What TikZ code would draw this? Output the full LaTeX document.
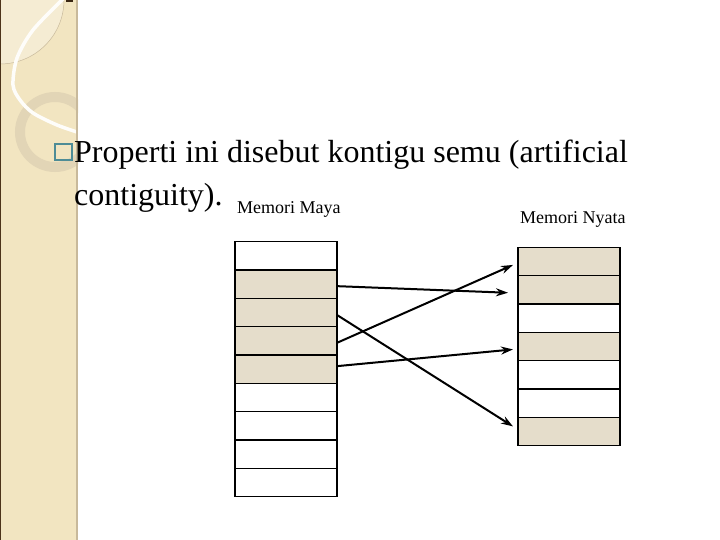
\documentclass[tikz,border=0pt]{standalone}
\usepackage{fontspec}
\setmainfont{Liberation Serif}
\usetikzlibrary{arrows.meta}
\definecolor{strip}{RGB}{242,229,193}
\definecolor{stripedge}{RGB}{200,185,155}
\definecolor{ringcol}{RGB}{226,213,182}
\definecolor{cellfill}{RGB}{229,221,203}
\definecolor{bulletcol}{RGB}{78,140,150}
\tikzset{
  cell/.style={draw,line width=1.2pt,minimum width=102pt,minimum height=28.33pt,inner sep=0pt,outer sep=0pt},
  link/.style={-{Stealth[length=12pt,width=8pt]},line width=2pt},
  bigtext/.style={anchor=base west,inner sep=0pt,font=\fontsize{32}{38}\selectfont},
  smalltext/.style={anchor=base west,inner sep=0pt,font=\fontsize{18}{22}\selectfont}
}
\begin{document}
\begin{tikzpicture}[x=1pt,y=-1pt]
\useasboundingbox (0,0) rectangle (720,540);
% side strip
\begin{scope}
\clip (0,0) rectangle (78,540);
\fill[strip] (0,0) rectangle (78,540);
\fill[white,opacity=0.3] (0,0) circle (64);
\draw[stripedge,line width=0.5pt] (0,0) circle (64);
\draw[ringcol,line width=10pt] (55,132) circle (35);
\draw[white!92!strip,line width=3.5pt] plot[smooth] coordinates {(64,-2) (33,30) (17,58) (13,85) (20,100) (33,113) (57,125) (80,133)};
\end{scope}
\draw[stripedge,line width=2.5pt] (77,0) -- (77,540);
\draw[black!60!brown,line width=1pt] (0.5,0) -- (0.5,540);
\fill[black!70!brown] (66,0) rectangle (73,2);
% bullet and text
\node[draw=bulletcol,line width=2pt,minimum width=17pt,minimum height=16pt,inner sep=0pt] (bullet) at (63.5,152.5) {};
\node[bigtext] (line1) at (74,163) {Properti ini disebut kontigu semu (artificial};
\node[bigtext] (line2) at (74,206) {contiguity).};
\node[smalltext] (mayalabel) at (237,214) {Memori Maya};
\node[smalltext] (nyatalabel) at (520,223) {Memori Nyata};
% virtual memory
\foreach \i/\c in {1/white,2/cellfill,3/cellfill,4/cellfill,5/cellfill,6/white,7/white,8/white,9/white} {\node[cell,fill=\c] (maya\i) at (286,227.5+28.33*\i) {};}
% real memory
\foreach \i/\c in {1/cellfill,2/cellfill,3/white,4/cellfill,5/white,6/white,7/cellfill} {\node[cell,fill=\c] (nyata\i) at (569,233.1+28.33*\i) {};}
% mapping
\draw[link] ([yshift=-2pt]maya2.east) -- ([xshift=-10pt,yshift=-3pt]nyata2.west);
\draw[link] ([yshift=-2.5pt]maya3.east) -- ([xshift=-5pt,yshift=5pt]nyata7.west);
\draw[link] ([yshift=-2pt]maya4.east) -- ([xshift=-5pt,yshift=-3.5pt]nyata1.west);
\draw[link] ([yshift=3pt]maya5.east) -- ([xshift=-5pt,yshift=-3pt]nyata4.west);
\end{tikzpicture}
\end{document}
